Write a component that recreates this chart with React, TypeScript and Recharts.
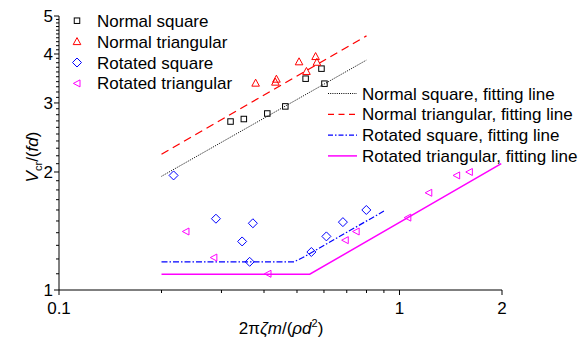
import React from 'react';
import { ScatterChart, Scatter, XAxis, YAxis } from 'recharts';

const FONT = '"Liberation Sans", Arial, Helvetica, sans-serif';

// tick values
const xMajorTicks = [0.1, 1, 2];
const xMinorTicks = [0.2, 0.3, 0.4, 0.5, 0.6, 0.7, 0.8, 0.9];
const yMajorTicks = [1, 2, 3, 4, 5];
const yMinorTicks = [
  1.1, 1.2, 1.3, 1.4, 1.5, 1.6, 1.7, 1.8, 1.9,
  2.1, 2.2, 2.3, 2.4, 2.5, 2.6, 2.7, 2.8, 2.9,
  3.1, 3.2, 3.3, 3.4, 3.5, 3.6, 3.7, 3.8, 3.9,
  4.1, 4.2, 4.3, 4.4, 4.5, 4.6, 4.7, 4.8, 4.9,
];

// measured points
const normalSquareX = [0.319, 0.349, 0.409, 0.462, 0.53, 0.59, 0.602];
const normalSquareY = [2.69, 2.73, 2.82, 2.94, 3.46, 3.67, 3.36];

const normalTriX = [0.378, 0.435, 0.432, 0.507, 0.533, 0.567, 0.572];
const normalTriY = [3.37, 3.45, 3.39, 3.82, 3.61, 3.94, 3.81];

const rotSquareX = [0.217, 0.289, 0.371, 0.345, 0.363, 0.551, 0.61, 0.682, 0.799];
const rotSquareY = [1.96, 1.52, 1.48, 1.33, 1.18, 1.25, 1.37, 1.49, 1.6];

const rotTriX = [0.236, 0.285, 0.411, 0.693, 0.746, 1.058, 1.219, 1.472, 1.604];
const rotTriY = [1.41, 1.21, 1.1, 1.34, 1.41, 1.53, 1.77, 1.96, 2.0];

// fitting lines
const nsFitX = [0.2, 0.8];
const nsFitY = [1.95, 3.86];
const ntFitX = [0.2, 0.8];
const ntFitY = [2.22, 4.45];
const rsFitX = [0.2, 0.49, 0.52, 0.9];
const rsFitY = [1.18, 1.18, 1.21, 1.59];
const rtFitX = [0.2, 0.545, 1.99];
const rtFitY = [1.097, 1.097, 2.1];

const zip = (xs: number[], ys: number[]) => xs.map((x, i) => ({ x, y: ys[i] }));

const isMajor = (v: number, arr: number[]) => arr.some((m) => Math.abs(m - v) < 1e-9);

const BLACK = '#000000';
const RED = '#ff0000';
const BLUE = '#0000ff';
const MAGENTA = '#ff00ff';

const SquareMark = ({ cx, cy }: any) => (
  <rect x={cx - 2.75} y={cy - 2.75} width={5.5} height={5.5} fill="none" stroke={BLACK} strokeWidth={1} />
);
const TriUpMark = ({ cx, cy }: any) => (
  <polygon
    points={`${cx},${cy - 4} ${cx + 3.8},${cy + 3} ${cx - 3.8},${cy + 3}`}
    fill="none"
    stroke={RED}
    strokeWidth={1}
  />
);
const DiamondMark = ({ cx, cy }: any) => (
  <polygon
    points={`${cx},${cy - 4.5} ${cx + 4.5},${cy} ${cx},${cy + 4.5} ${cx - 4.5},${cy}`}
    fill="none"
    stroke={BLUE}
    strokeWidth={1}
  />
);
const TriLeftMark = ({ cx, cy }: any) => (
  <polygon
    points={`${cx - 3.6},${cy} ${cx + 3},${cy - 3.5} ${cx + 3},${cy + 3.5}`}
    fill="none"
    stroke={MAGENTA}
    strokeWidth={1}
  />
);
const NoMark = () => <g />;

const XTick = ({ x, y, payload }: any) => {
  const v = payload.value;
  const major = isMajor(v, xMajorTicks);
  return (
    <g>
      <line x1={x} x2={x} y1={y} y2={y + (major ? 5 : 3)} stroke={BLACK} strokeWidth={1} />
      {major && (
        <text x={x} y={y + 23.5} textAnchor="middle" fontSize={17} fontFamily={FONT} fill={BLACK}>
          {String(v)}
        </text>
      )}
    </g>
  );
};

const YTick = ({ x, y, payload }: any) => {
  const v = payload.value;
  const major = isMajor(v, yMajorTicks);
  return (
    <g>
      <line x1={x} x2={x - (major ? 5 : 3)} y1={y} y2={y} stroke={BLACK} strokeWidth={1} />
      {major && (
        <text x={x - 6} y={y + 6} textAnchor="end" fontSize={17} fontFamily={FONT} fill={BLACK}>
          {String(v)}
        </text>
      )}
    </g>
  );
};

const markerLegend = [
  { label: 'Normal square', Mark: SquareMark },
  { label: 'Normal triangular', Mark: TriUpMark },
  { label: 'Rotated square', Mark: DiamondMark },
  { label: 'Rotated triangular', Mark: TriLeftMark },
];

const lineLegend = [
  { label: 'Normal square, fitting line', stroke: BLACK, dash: '1 1.2', width: 1 },
  { label: 'Normal triangular, fitting line', stroke: RED, dash: '6 4.5', width: 1.3 },
  { label: 'Rotated square, fitting line', stroke: BLUE, dash: '5 2 1.5 2', width: 1.2 },
  { label: 'Rotated triangular, fitting line', stroke: MAGENTA, dash: undefined, width: 1.5 },
];

export default function App() {
  return (
    <div style={{ position: 'absolute', left: 0, top: 0, width: 586, height: 340, background: '#fff' }}>
      <ScatterChart width={586} height={340} margin={{ top: 16, right: 84, bottom: 0, left: 0 }}>
        <XAxis
          type="number"
          dataKey="x"
          scale="log"
          domain={[0.1, 2]}
          ticks={[...xMajorTicks, ...xMinorTicks].sort((a, b) => a - b)}
          interval={0}
          allowDataOverflow
          height={50}
          tickSize={0}
          tickMargin={0}
          tick={<XTick />}
          axisLine={{ stroke: BLACK, strokeWidth: 1 }}
          tickLine={false}
        />
        <YAxis
          type="number"
          dataKey="y"
          scale="log"
          domain={[1, 5]}
          ticks={[...yMajorTicks, ...yMinorTicks].sort((a, b) => a - b)}
          interval={0}
          allowDataOverflow
          width={59}
          tickSize={0}
          tickMargin={0}
          tick={<YTick />}
          axisLine={{ stroke: BLACK, strokeWidth: 1 }}
          tickLine={false}
        />
        <Scatter
          data={zip(nsFitX, nsFitY)}
          line={{ stroke: BLACK, strokeWidth: 1, strokeDasharray: '1 1.2' }}
          lineType="joint"
          shape={<NoMark />}
          isAnimationActive={false}
        />
        <Scatter
          data={zip(ntFitX, ntFitY)}
          line={{ stroke: RED, strokeWidth: 1.3, strokeDasharray: '8 5' }}
          lineType="joint"
          shape={<NoMark />}
          isAnimationActive={false}
        />
        <Scatter
          data={zip(rsFitX, rsFitY)}
          line={{ stroke: BLUE, strokeWidth: 1.2, strokeDasharray: '6 2 1.5 2' }}
          lineType="joint"
          shape={<NoMark />}
          isAnimationActive={false}
        />
        <Scatter
          data={zip(rtFitX, rtFitY)}
          line={{ stroke: MAGENTA, strokeWidth: 1.5 }}
          lineType="joint"
          shape={<NoMark />}
          isAnimationActive={false}
        />
        <Scatter data={zip(normalSquareX, normalSquareY)} shape={<SquareMark />} isAnimationActive={false} />
        <Scatter data={zip(normalTriX, normalTriY)} shape={<TriUpMark />} isAnimationActive={false} />
        <Scatter data={zip(rotSquareX, rotSquareY)} shape={<DiamondMark />} isAnimationActive={false} />
        <Scatter data={zip(rotTriX, rotTriY)} shape={<TriLeftMark />} isAnimationActive={false} />
      </ScatterChart>
      <svg
        width={586}
        height={340}
        style={{ position: 'absolute', left: 0, top: 0, pointerEvents: 'none' }}
        fontFamily={FONT}
      >
        {markerLegend.map(({ label, Mark }, i) => {
          const cy = 20.7 + 20.9 * i;
          return (
            <g key={label}>
              <Mark cx={77} cy={cy} />
              <text x={97} y={cy + 6} fontSize={17} fill={BLACK}>
                {label}
              </text>
            </g>
          );
        })}
        {lineLegend.map(({ label, stroke, dash, width }, i) => {
          const cy = 93.5 + 20.8 * i;
          return (
            <g key={label}>
              <line x1={328} x2={357} y1={cy} y2={cy} stroke={stroke} strokeWidth={width} strokeDasharray={dash} />
              <text x={362} y={cy + 6} fontSize={17} fill={BLACK}>
                {label}
              </text>
            </g>
          );
        })}
        <text transform="translate(37.5,157) rotate(-90)" textAnchor="middle" fontSize={17} fill={BLACK}>
          <tspan fontStyle="italic">V</tspan>
          <tspan fontSize={11} dy={4}>cr</tspan>
          <tspan dy={-4}>/(</tspan>
          <tspan fontStyle="italic">fd</tspan>
          <tspan>)</tspan>
        </text>
        <text x={281} y={334} textAnchor="middle" fontSize={17} fill={BLACK}>
          <tspan>2π</tspan>
          <tspan fontStyle="italic">ζm</tspan>
          <tspan>/(</tspan>
          <tspan fontStyle="italic">ρd</tspan>
          <tspan fontSize={11} dy={-7}>2</tspan>
          <tspan dy={7}>)</tspan>
        </text>
      </svg>
    </div>
  );
}
